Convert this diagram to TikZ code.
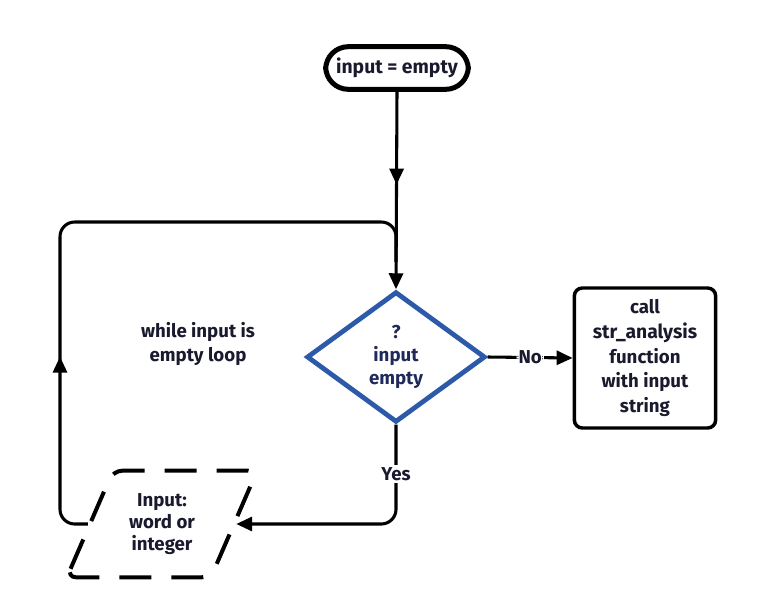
\documentclass[tikz,border=0pt]{standalone}
\usepackage{fontspec}
\setmainfont{Fira Sans}
\usetikzlibrary{arrows.meta,shapes.geometric,decorations.markings,calc}
\definecolor{ink}{HTML}{1A1A2E}
\definecolor{navy}{HTML}{1F2A5A}
\definecolor{dblue}{HTML}{2C5AA8}
\begin{document}
\begin{tikzpicture}[x=0.75pt,y=-0.75pt,
  txt/.style={font=\bfseries\fontsize{14}{18}\selectfont, text=ink, align=center},
  terminal/.style={draw=black, line width=3.75pt, rounded corners=17pt, minimum width=107pt, minimum height=32pt, inner sep=0pt, txt, font=\bfseries\fontsize{14.5}{18}\selectfont},
  decision/.style={diamond, draw=dblue, line width=3.6pt, minimum width=134pt, minimum height=98pt, inner sep=0pt, txt, text=navy, font=\bfseries\fontsize{14}{17}\selectfont},
  procbox/.style={draw=black, line width=2.6pt, rounded corners=6pt, minimum width=106pt, minimum height=105pt, inner sep=0pt, txt, font=\bfseries\fontsize{14}{18.5}\selectfont},
  iobox/.style={trapezium, trapezium left angle=63, trapezium right angle=117, trapezium stretches=true, draw=black, line width=3pt, dash pattern=on 24pt off 15pt, rounded corners=7pt, minimum width=143pt, minimum height=80pt, inner sep=0pt, txt, font=\bfseries\fontsize{14}{16.5}\selectfont},
  conn/.style={draw=black, line width=2.3pt, rounded corners=11pt},
  tip/.style={-{Triangle[length=12pt,width=10.5pt]}},
  lbl/.style={txt, fill=white, inner sep=1.5pt},
  midtip/.style={postaction={decorate}, decoration={markings, mark=at position #1 with {\arrow{Triangle[length=12pt,width=10.5pt]}}}}
]
\useasboundingbox (0,0) rectangle (776,596);
\node[terminal] (start) at (397,68) {input = empty};
\node[decision] (dec) at (396,357) {?\\input\\empty};
\node[procbox] (call) at (645,358) {call\\{\fontsize{14.5}{18.5}\selectfont str\_analysis}\\function\\with input\\string};
\node[iobox] (inp) at (162,524) {Input:\\word or\\integer};
\node[txt] (note) at (198,344) {while input is\\empty loop};
\coordinate (loopc) at (60,222);
% start -> decision
\draw[conn, tip, midtip=0.47] (start.south) -- (dec.north);
% loop back
\draw[conn, midtip=0.275] (inp.west) -- (inp.west -| loopc) -- (loopc) -- (loopc -| dec.north) -- ($(loopc -| dec.north)+(0,40)$);
% No
\draw[conn, tip] (dec.east) -- node[lbl] (no) {No} (call.west);
% Yes
\draw[conn, tip] (dec.south) -- ($(dec.south |- inp.east)$) -- (inp.east);
\node[lbl] (yes) at (396,474) {Yes};
\end{tikzpicture}
\end{document}
